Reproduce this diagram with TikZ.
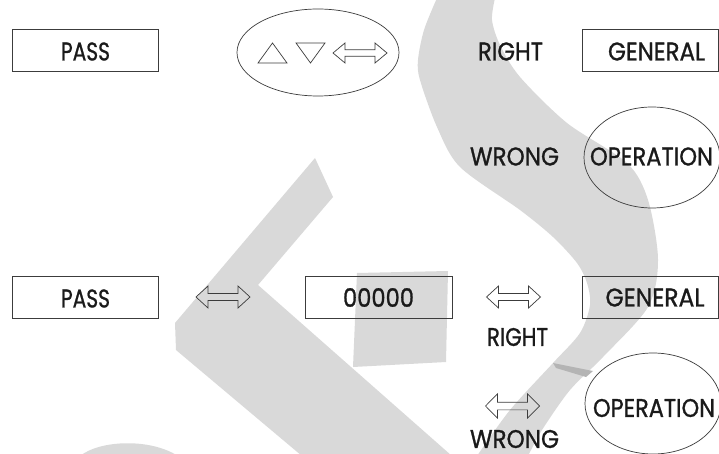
\documentclass[tikz,border=0pt]{standalone}
\usepackage{fontspec}
\setmainfont{Poppins}
\newfontfamily\lblfont{Poppins}[FakeBold=1.1]
\usepackage{graphicx}
\usetikzlibrary{shapes.geometric}
\definecolor{wm}{HTML}{D9D9D9}
\definecolor{wmdark}{HTML}{B4B4B4}
\definecolor{ink}{HTML}{1A1A1A}
\definecolor{edge}{HTML}{3C3C3C}
\newcommand\fitw[2]{\resizebox{#1pt}{\height}{#2}}
\tikzset{
 box/.style={draw=edge, line width=0.9pt, rectangle, inner sep=0pt},
 oval/.style={draw=edge, line width=0.7pt, ellipse, inner sep=0pt},
 lbl/.style={inner sep=0pt, text=ink, font=\lblfont\fontsize{25.5}{25.5}\selectfont},
 sym/.style={draw=edge, line width=0.7pt, line join=miter},
 dblarrow/.pic={\draw[sym] (-27,0) -- (-15,-11) -- (-15,-3.5) -- (15,-3.5) -- (15,-11) -- (27,0) -- (15,11) -- (15,3.5) -- (-15,3.5) -- (-15,11) -- cycle;}
}
\begin{document}
\begin{tikzpicture}[x=1pt,y=-1pt]
\useasboundingbox (0,0) rectangle (719,454);
\fill[white] (0,0) rectangle (719,454);
% watermark
\begin{scope}
\clip (0,0) rectangle (719,454);
\fill[wm] plot[smooth] coordinates {(495,-2) (492,20) (500,45) (520,77) (567,123) (627,163) (648,200) (658,260) (648,307) (603,357) (570,390) (542,430) (528,456)}
 -- plot[smooth] coordinates {(477,456) (510,410) (553,363) (580,333) (590,305) (587,283) (577,263) (553,237) (520,210) (460,167) (437,127) (420,80) (418,60) (424,30) (437,-2)} -- cycle;
\fill[wm] (315,158) -- (333,197) -- (258,285) -- (452,456) -- (302,456) -- (176,350) -- (175,323) -- cycle;
\fill[wm] (357,273) -- (448,271) -- (446,362) -- (353,367) -- cycle;
\fill[wm] (80,456) .. controls (100,440) and (150,438) .. (178,456) -- cycle;
\fill[wmdark] (553,363) -- (593,371) -- (586,377) -- (556,368) -- cycle;
\end{scope}
% top row
\node[box, minimum width=146pt, minimum height=42pt] (pass1) at (85,50) {};
\node[lbl] (pass1t) at (85.5,51.5) {\fitw{49}{PASS}};
\node[oval, minimum width=162pt, minimum height=87pt] (keys) at (318,52.5) {};
\draw[sym] (258,63) -- (272.5,43) -- (287,63) -- cycle;
\draw[sym] (296,43) -- (325,43) -- (310.5,63) -- cycle;
\pic[yscale=0.91] at (360,53) {dblarrow};
\node[lbl] (right1) at (510.5,51.5) {\fitw{65}{RIGHT}};
\node[box, minimum width=136pt, minimum height=42pt] (gen1) at (650.5,50) {};
\node[lbl] (gen1t) at (656.5,51.5) {\fitw{97}{GENERAL}};
\node[lbl] (wrong1) at (514.5,156.5) {\fitw{89}{WRONG}};
\node[oval, minimum width=136pt, minimum height=101pt] (op1) at (652,157.5) {};
\node[lbl] (op1t) at (651.5,156.5) {\fitw{123}{OPERATION}};
% bottom row
\node[box, minimum width=146pt, minimum height=42pt] (pass2) at (85,297) {};
\node[lbl] (pass2t) at (85.5,298.5) {\fitw{49}{PASS}};
\pic at (223,297) {dblarrow};
\node[box, minimum width=147pt, minimum height=42pt] (num) at (378.5,297) {};
\node[lbl] (numt) at (378.5,297.5) {\fitw{71}{00000}};
\pic at (513.5,297) {dblarrow};
\node[lbl] (right2) at (517.5,337) {\fitw{61}{RIGHT}};
\node[box, minimum width=136pt, minimum height=42pt] (gen2) at (650.5,297) {};
\node[lbl] (gen2t) at (655,297.5) {\fitw{99}{GENERAL}};
\pic[yscale=1.1] at (512.5,406) {dblarrow};
\node[lbl] (wrong2) at (514.5,439) {\fitw{89}{WRONG}};
\node[oval, minimum width=136pt, minimum height=101pt] (op2) at (653,403.5) {};
\node[lbl] (op2t) at (654,408) {\fitw{122}{OPERATION}};
\end{tikzpicture}
\end{document}
